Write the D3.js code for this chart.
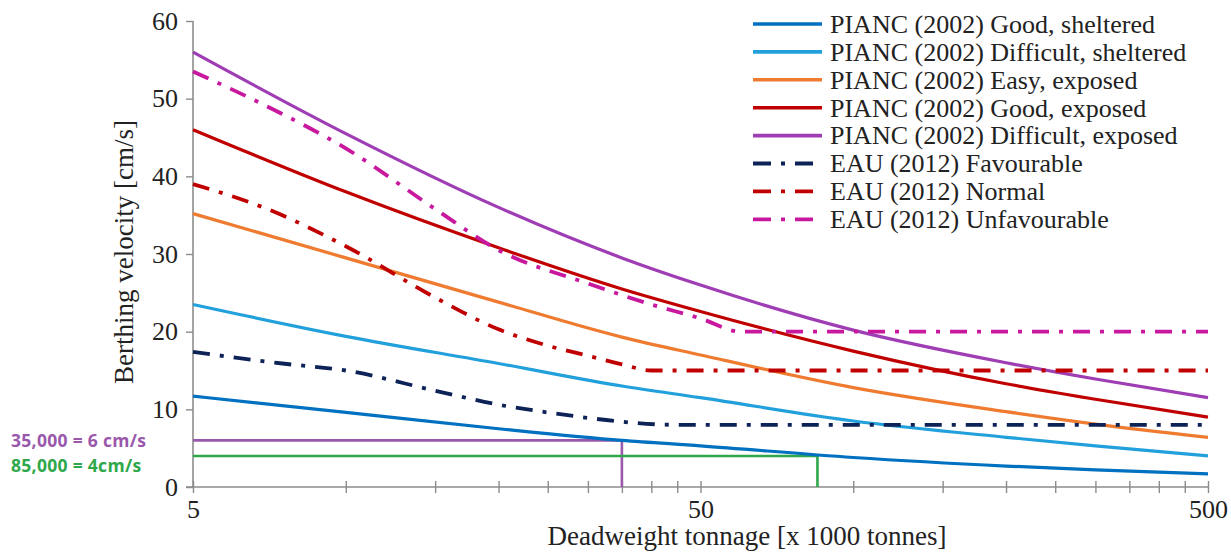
<!DOCTYPE html>
<html>
<head>
<meta charset="utf-8">
<script src="https://cdn.jsdelivr.net/npm/d3@7"></script>
<style>
  html, body { margin: 0; padding: 0; background: #fff; }
  svg { display: block; }
</style>
</head>
<body>
<svg id="chart" width="1231" height="552"></svg>
<script>
// ---------------- data ----------------
const xTickValues = [5, 10, 15, 20, 25, 30, 35, 40, 45, 50, 100, 150, 200, 250, 300, 350, 400, 450, 500];
const xTickLabels = [5, 50, 500];
const yTickValues = [0, 10, 20, 30, 40, 50, 60];

const piancDwt = [5, 10, 20, 35, 50, 100, 200, 300, 500];
const piancGoodSheltered      = [11.7, 9.6, 7.5, 6.0, 5.3, 3.8, 2.7, 2.2, 1.7];
const piancDifficultSheltered = [23.5, 19.4, 15.9, 13.0, 11.5, 8.5, 6.4, 5.3, 4.0];
const piancEasyExposed        = [35.2, 29.5, 23.8, 19.3, 17.0, 12.8, 9.7, 8.1, 6.4];
const piancGoodExposed        = [46.0, 38.0, 30.8, 25.5, 22.6, 17.5, 13.3, 11.3, 9.0];
const piancDifficultExposed   = [56.0, 45.5, 36.0, 29.5, 26.0, 20.2, 16.0, 13.9, 11.5];

const eauFavourableDwt   = [5, 7.5, 10, 15, 20, 25, 30, 35, 45, 500];
const eauFavourableV     = [17.4, 15.9, 15.0, 12.4, 10.6, 9.6, 8.9, 8.4, 8.0, 8.0];
const eauNormalDwt       = [5, 7, 10, 15, 20, 25, 30, 35, 40, 500];
const eauNormalV         = [39.0, 35.8, 31.0, 24.4, 20.3, 18.2, 16.9, 15.8, 15.0, 15.0];
const eauUnfavourableDwt = [5, 7, 10, 15, 20, 30, 40, 50, 60, 500];
const eauUnfavourableV   = [53.5, 49.0, 43.6, 35.8, 30.5, 26.2, 23.5, 21.7, 20.0, 20.0];

const seriesNames = [
  "PIANC (2002) Good, sheltered",
  "PIANC (2002) Difficult, sheltered",
  "PIANC (2002) Easy, exposed",
  "PIANC (2002) Good, exposed",
  "PIANC (2002) Difficult, exposed",
  "EAU (2012) Favourable",
  "EAU (2012) Normal",
  "EAU (2012) Unfavourable"
];

// annotation values (DWT x1000, velocity cm/s)
const annotDwt = [35, 85];
const annotV = [6, 4];
const annotLabels = ["35,000 = 6 cm/s", "85,000 = 4cm/s"];

// ---------------- drawing ----------------
const colors = ["#0070C0", "#22A0DC", "#EE7B30", "#C00000", "#9E3DB4", "#0D2257", "#C00000", "#C8189E"];
const annotColors = ["#9A58AC", "#2EA84A"];

const svg = d3.select("#chart");
const x = d3.scaleLog().domain([5, 500]).range([193, 1208]);
const y = d3.scaleLinear().domain([0, 60]).range([487, 21]);

const serif = "'Liberation Serif', 'Times New Roman', serif";
const textColor = "#222";
const axisColor = "#8c8c8c";

const series = [
  { dwt: piancDwt, v: piancGoodSheltered, dash: null },
  { dwt: piancDwt, v: piancDifficultSheltered, dash: null },
  { dwt: piancDwt, v: piancEasyExposed, dash: null },
  { dwt: piancDwt, v: piancGoodExposed, dash: null },
  { dwt: piancDwt, v: piancDifficultExposed, dash: null },
  { dwt: eauFavourableDwt, v: eauFavourableV, dash: "17,10,4,10" },
  { dwt: eauNormalDwt, v: eauNormalV, dash: "17,10,4,10" },
  { dwt: eauUnfavourableDwt, v: eauUnfavourableV, dash: "17,10,4,10" }
].map((s, i) => ({ ...s, name: seriesNames[i], color: colors[i], pts: s.dwt.map((d, j) => [d, s.v[j]]) }));

// axes
const xAxis = d3.axisBottom(x).tickValues(xTickValues).tickSize(6)
  .tickFormat(d => xTickLabels.includes(d) ? d : "");
const gx = svg.append("g").attr("transform", `translate(0,${y(0)})`).call(xAxis);
gx.select(".domain").attr("stroke", axisColor).attr("stroke-width", 1.6).attr("d", `M${x(5) - 7},0H${x(500)}`);
gx.selectAll(".tick line").attr("stroke", axisColor).attr("stroke-width", 1.4).attr("y1", -6).attr("y2", 6);
gx.selectAll(".tick text").attr("font-family", serif).attr("font-size", 26).attr("fill", textColor)
  .attr("y", 12).attr("dy", "0.72em");

const yAxis = d3.axisLeft(y).tickValues(yTickValues).tickSize(7).tickPadding(8);
const gy = svg.append("g").attr("transform", `translate(${x(5)},0)`).call(yAxis);
gy.select(".domain").attr("stroke", axisColor).attr("stroke-width", 1.6).attr("d", `M0,${y(60)}V${y(0)}`);
gy.selectAll(".tick line").attr("stroke", axisColor).attr("stroke-width", 1.4);
gy.selectAll(".tick text").attr("font-family", serif).attr("font-size", 26).attr("fill", textColor);

// axis titles
svg.append("text").attr("x", 747).attr("y", 545).attr("text-anchor", "middle")
  .attr("font-family", serif).attr("font-size", 27).attr("fill", textColor)
  .text("Deadweight tonnage [x 1000 tonnes]");
svg.append("text").attr("transform", `translate(133,252) rotate(-90)`).attr("text-anchor", "middle")
  .attr("font-family", serif).attr("font-size", 27).attr("fill", textColor)
  .text("Berthing velocity [cm/s]");

// annotation lines + labels
const annotBaselines = [447, 472];
annotDwt.forEach((d, i) => {
  svg.append("path")
    .attr("d", `M${x(5)},${y(annotV[i])}H${x(d)}V${y(0)}`)
    .attr("fill", "none").attr("stroke", annotColors[i]).attr("stroke-width", 2.6);
  svg.append("text").attr("x", 11).attr("y", annotBaselines[i])
    .attr("font-family", "'Open Sans', 'Noto Sans', sans-serif").attr("font-weight", "bold")
    .attr("font-size", 17.5).attr("letter-spacing", 0.3)
    .attr("fill", annotColors[i]).text(annotLabels[i]);
});

// series lines
const line = d3.line().x(d => x(d[0])).y(d => y(d[1])).curve(d3.curveMonotoneX);
series.forEach(s => {
  svg.append("path").datum(s.pts).attr("d", line)
    .attr("fill", "none").attr("stroke", s.color)
    .attr("stroke-width", s.dash ? 3.8 : 3.2)
    .attr("stroke-dasharray", s.dash);
});

// legend
const lg = svg.append("g");
series.forEach((s, i) => {
  const yy = 24 + i * 27.9;
  lg.append("line").attr("x1", 753).attr("x2", s.dash ? 813 : 822).attr("y1", yy).attr("y2", yy)
    .attr("stroke", s.color).attr("stroke-width", s.dash ? 3.8 : 3.6)
    .attr("stroke-dasharray", s.dash ? "18,10,4,10" : null);
  lg.append("text").attr("x", 830).attr("y", yy).attr("dy", "0.34em")
    .attr("font-family", serif).attr("font-size", 26).attr("fill", textColor).text(s.name);
});
</script>
</body>
</html>
